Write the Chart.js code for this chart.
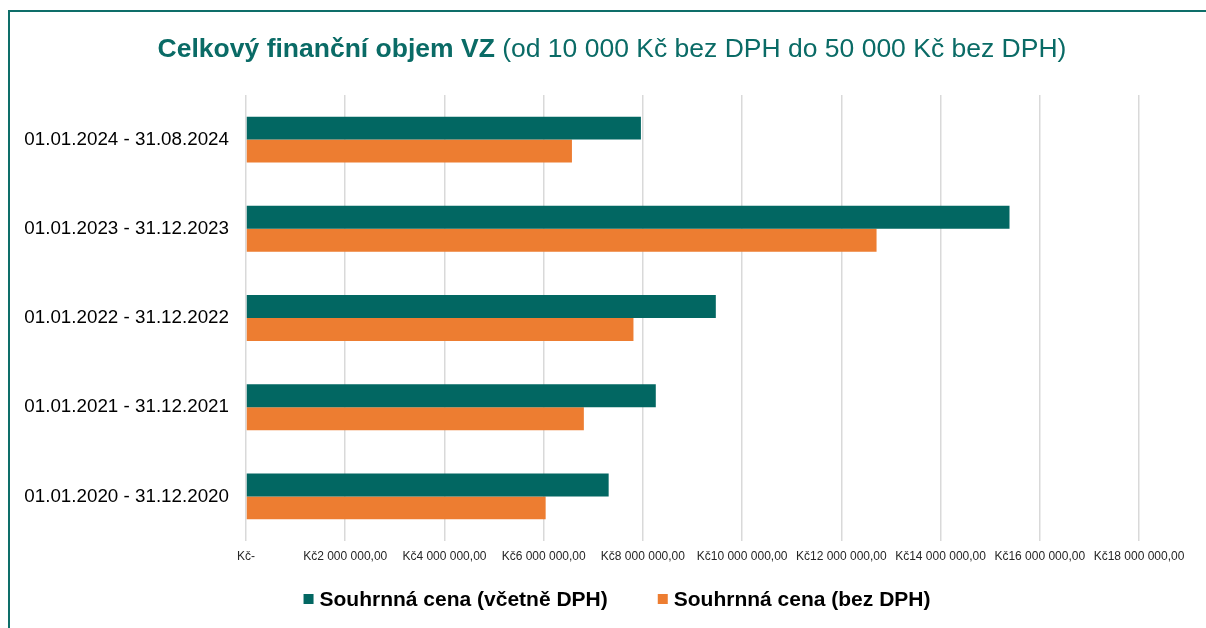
<!DOCTYPE html>
<html>
<head>
<meta charset="utf-8">
<script src="https://cdn.jsdelivr.net/npm/chart.js@4/dist/chart.umd.min.js"></script>
<style>
  html, body { margin: 0; padding: 0; background: #fff; }
  #wrap { width: 1206px; height: 628px; position: relative; }
</style>
</head>
<body>
<div id="wrap"><canvas id="myChart" width="1206" height="628"></canvas></div>
<script>
var categories = [
  "01.01.2024 - 31.08.2024",
  "01.01.2023 - 31.12.2023",
  "01.01.2022 - 31.12.2022",
  "01.01.2021 - 31.12.2021",
  "01.01.2020 - 31.12.2020"
];
var seriesNames = ["Souhrnná cena (včetně DPH)", "Souhrnná cena (bez DPH)"];
var withVat = [7960000, 15390000, 9470000, 8260000, 7310000];
var withoutVat = [6570000, 12710000, 7810000, 6810000, 6040000];
var xTicks = [0, 2000000, 4000000, 6000000, 8000000, 10000000, 12000000, 14000000, 16000000, 18000000];

var teal = "#026762";
var orange = "#ED7D31";

function fmtKc(v) {
  if (v === 0) return "Kč-";
  var s = String(Math.round(v)).replace(/\B(?=(\d{3})+(?!\d))/g, " ");
  return "Kč" + s + ",00";
}

// title + frame + legend drawn by hand (mixed bold/normal title)
var decor = {
  id: "decor",
  afterDraw: function(chart) {
    var ctx = chart.ctx;
    ctx.save();
    ctx.fillStyle = "#0e6e69";
    ctx.fillRect(8, 10, 2, 618);
    ctx.fillRect(8, 10, 1198, 2);

    var boldTxt = "Celkový finanční objem VZ";
    var normTxt = " (od 10 000 Kč bez DPH do 50 000 Kč bez DPH)";
    ctx.font = "bold 26.5px 'Liberation Sans', Arial, sans-serif";
    var w1 = ctx.measureText(boldTxt).width;
    ctx.font = "26.5px 'Liberation Sans', Arial, sans-serif";
    var w2 = ctx.measureText(normTxt).width;
    var x0 = 612 - (w1 + w2) / 2;
    ctx.fillStyle = "#0a6b66";
    ctx.textBaseline = "alphabetic";
    ctx.font = "bold 26.5px 'Liberation Sans', Arial, sans-serif";
    ctx.fillText(boldTxt, x0, 57);
    ctx.font = "26.5px 'Liberation Sans', Arial, sans-serif";
    ctx.fillText(normTxt, x0 + w1, 57);

    // legend
    ctx.font = "bold 21px 'Liberation Sans', Arial, sans-serif";
    var ds = chart.data.datasets;
    var gap = 6, box = 10, between = 50;
    var total = 0;
    ds.forEach(function(d, i) {
      total += box + gap + ctx.measureText(d.label).width;
      if (i < ds.length - 1) total += between;
    });
    var x = 617 - total / 2;
    ctx.textBaseline = "middle";
    ds.forEach(function(d) {
      ctx.fillStyle = d.backgroundColor;
      ctx.fillRect(x, 594, box, box);
      ctx.fillStyle = "#000";
      ctx.fillText(d.label, x + box + gap, 600);
      x += box + gap + ctx.measureText(d.label).width + between;
    });
    ctx.restore();
  }
};

var ctx = document.getElementById("myChart").getContext("2d");
var chart = new Chart(ctx, {
  type: "bar",
  data: {
    labels: categories,
    datasets: [{
      label: seriesNames[0],
      data: withVat,
      backgroundColor: teal,
      borderWidth: 0
    }, {
      label: seriesNames[1],
      data: withoutVat,
      backgroundColor: orange,
      borderWidth: 0
    }]
  },
  options: {
    indexAxis: "y",
    responsive: false,
    animation: false,
    devicePixelRatio: 1,
    layout: { padding: { top: 95, right: 67, bottom: 57, left: 0 } },
    categoryPercentage: 0.515,
    barPercentage: 1,
    plugins: {
      legend: { display: false },
      title: { display: false },
      tooltip: { enabled: false }
    },
    scales: {
      x: {
        min: 0,
        max: 18000000,
        afterFit: function(s) { s.height = 30; },
        afterBuildTicks: function(s) {
          s.ticks = xTicks.map(function(v) { return { value: v }; });
        },
        grid: { color: "#d9d9d9", lineWidth: 1.5, drawTicks: false },
        border: { display: false },
        ticks: {
          padding: 8,
          color: "#262626",
          maxRotation: 0,
          autoSkip: false,
          font: { size: 12, family: "'Liberation Sans', Arial, sans-serif" },
          callback: function(v) { return fmtKc(v); }
        }
      },
      y: {
        afterFit: function(s) { s.width = 246; },
        grid: { display: false, drawTicks: false },
        border: { display: false },
        ticks: {
          padding: 17,
          color: "#000",
          font: { size: 18.8, family: "'Liberation Sans', Arial, sans-serif" }
        }
      }
    }
  },
  plugins: [decor]
});
</script>
</body>
</html>
